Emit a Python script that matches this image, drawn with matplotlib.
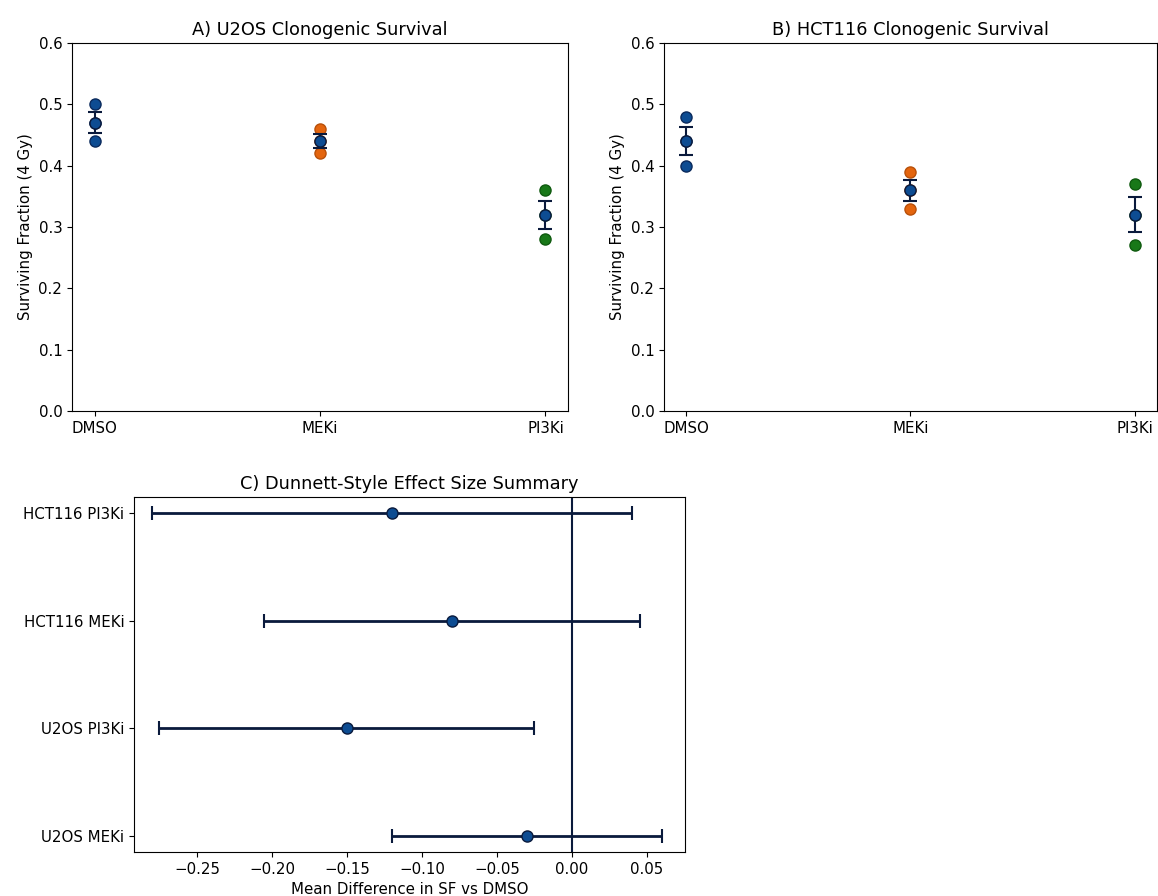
import matplotlib.pyplot as plt
import numpy as np

# Data
groups = ["DMSO", "MEKi", "PI3Ki"]
u2os_reps = [[0.50, 0.47, 0.44], [0.46, 0.44, 0.42], [0.36, 0.32, 0.28]]
hct_reps = [[0.48, 0.44, 0.40], [0.39, 0.36, 0.33], [0.37, 0.32, 0.27]]

effect_labels = ["U2OS MEKi", "U2OS PI3Ki", "HCT116 MEKi", "HCT116 PI3Ki"]
effect_diff = [-0.03, -0.15, -0.08, -0.12]
effect_lo = [-0.12, -0.275, -0.205, -0.28]
effect_hi = [0.06, -0.025, 0.045, 0.04]

blue = "#0d4c92"
navy = "#0a1a3c"
point_colors = [blue, "#e4650e", "#187818"]
edge_colors = ["#0a2a5c", "#b8500a", "#0f5a0f"]

plt.rcParams["font.family"] = "DejaVu Sans"
plt.rcParams["font.size"] = 10.8

fig = plt.figure(figsize=(11.58, 8.96), dpi=100)
ax_a = fig.add_axes([0.0622, 0.5413, 0.4283, 0.4107])
ax_b = fig.add_axes([0.5734, 0.5413, 0.4257, 0.4107])
ax_c = fig.add_axes([0.1157, 0.0491, 0.4758, 0.3962])


def survival_panel(ax, reps, title):
    x = np.arange(len(groups))
    for i, vals in enumerate(reps):
        ax.plot([x[i]] * len(vals), vals, "o", color=point_colors[i],
                markeredgecolor=edge_colors[i], markersize=8, zorder=2)
    means = [np.mean(v) for v in reps]
    sems = [np.std(v, ddof=1) / np.sqrt(len(v)) for v in reps]
    ax.errorbar(x, means, yerr=sems, fmt="o", color=blue, ecolor=navy,
                markeredgecolor=navy, markersize=8, capsize=5,
                elinewidth=1.5, capthick=1.5, zorder=3)
    ax.set_xticks(x)
    ax.set_xticklabels(groups)
    ax.set_xlim(-0.1, 2.1)
    ax.set_ylim(0, 0.6)
    ax.set_ylabel("Surviving Fraction (4 Gy)")
    ax.set_title(title, fontsize=12.8)


survival_panel(ax_a, u2os_reps, "A) U2OS Clonogenic Survival")
survival_panel(ax_b, hct_reps, "B) HCT116 Clonogenic Survival")

# Effect size panel
y = np.arange(len(effect_labels))
diff = np.array(effect_diff)
xerr = [diff - np.array(effect_lo), np.array(effect_hi) - diff]
ax_c.errorbar(diff, y, xerr=xerr, fmt="o", color=blue, ecolor=navy,
              markeredgecolor=navy, markersize=8, capsize=5,
              elinewidth=2, capthick=1.5)
ax_c.axvline(0, color=navy, linewidth=1.5)
ax_c.set_xlim(-0.292, 0.0753)
ax_c.set_yticks(y)
ax_c.set_yticklabels(effect_labels)
ax_c.set_xlabel("Mean Difference in SF vs DMSO")
ax_c.set_title("C) Dunnett-Style Effect Size Summary", fontsize=12.8)

fig.savefig("out.png", dpi=100)
